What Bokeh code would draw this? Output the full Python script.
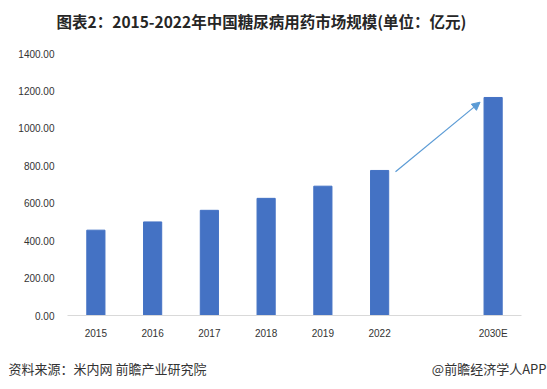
from bokeh.plotting import figure
from bokeh.layouts import column, row
from bokeh.models import Range1d, FixedTicker, Label, Arrow, NormalHead, NumeralTickFormatter, ColumnDataSource
from bokeh.embed import file_html
from bokeh.resources import INLINE

# ---- data ----
years = ["2015", "2016", "2017", "2018", "2019", "2022", "2030E"]
market_size = [456, 500, 562, 626, 691, 775, 1165]
slot_index = [0, 1, 2, 3, 4, 5, 7]   # one empty slot between 2022 and 2030E
n_slots = 8
y_ticks = [0, 200, 400, 600, 800, 1000, 1200, 1400]
title_text = "图表2：2015-2022年中国糖尿病用药市场规模(单位：亿元)"
source_text = "资料来源：米内网 前瞻产业研究院"
brand_text = "@前瞻经济学人APP"

W = 547
TH, MH, FH = 40, 301, 48


def text_fig(h):
    f = figure(width=W, height=h, output_backend="svg", toolbar_location=None,
               x_range=Range1d(0, W), y_range=Range1d(0, h),
               min_border=0, min_border_left=0, min_border_right=0,
               min_border_top=0, min_border_bottom=0)
    f.axis.visible = False
    f.grid.visible = False
    f.outline_line_color = None
    f.border_fill_color = "white"
    f.background_fill_color = "white"
    return f


# title strip
t = text_fig(TH)
t.add_layout(Label(x=261, y=TH - 20, text=title_text, text_align="center", text_baseline="middle",
                   text_font="Noto Sans CJK SC", text_font_style="bold",
                   text_font_size="15.5px", text_color="#262626"))

# main chart
p = figure(width=W, height=MH, output_backend="svg", toolbar_location=None,
           x_range=Range1d(-0.5, n_slots - 0.5), y_range=Range1d(0, 1400),
           min_border_left=67, min_border_right=26,
           min_border_top=13, min_border_bottom=24)
p.outline_line_color = None
p.background_fill_color = "white"
p.border_fill_color = "white"
p.xgrid.visible = False
p.ygrid.visible = False

src = ColumnDataSource(dict(x=slot_index, top=market_size, year=years))
p.vbar(x="x", top="top", width=0.32, source=src, color="#4472C4")

p.xaxis.ticker = FixedTicker(ticks=slot_index)
p.xaxis.major_label_overrides = {i: y for i, y in zip(slot_index, years)}
p.xaxis.axis_line_color = "#D9D9D9"
p.xaxis.major_tick_line_color = None
p.xaxis.minor_tick_line_color = None
p.xaxis.major_label_text_font = "Liberation Sans"
p.xaxis.major_label_text_font_size = "10px"
p.xaxis.major_label_text_color = "#333333"
p.xaxis.major_label_standoff = 6

p.yaxis.ticker = FixedTicker(ticks=y_ticks)
p.yaxis.formatter = NumeralTickFormatter(format="0.00")
p.yaxis.axis_line_color = None
p.yaxis.major_tick_line_color = None
p.yaxis.minor_tick_line_color = None
p.yaxis.major_label_text_font = "Liberation Sans"
p.yaxis.major_label_text_font_size = "10px"
p.yaxis.major_label_text_color = "#333333"
p.yaxis.major_label_standoff = 7

p.add_layout(Arrow(end=NormalHead(size=8, fill_color="#5B9BD5", line_color="#5B9BD5"),
                   x_start=5.28, y_start=768, x_end=6.77, y_end=1140,
                   line_color="#5B9BD5", line_width=1.2))

# footer strip
f = text_fig(FH)
f.add_layout(Label(x=8, y=FH - 27, text=source_text, text_align="left", text_baseline="middle",
                   text_font="Noto Sans CJK SC", text_font_size="13px", text_color="#333333"))
f.add_layout(Label(x=546, y=FH - 27, text=brand_text, text_align="right", text_baseline="middle",
                   text_font="Noto Sans CJK SC", text_font_size="13px", text_color="#333333"))

layout = column(row(t), p, row(f), spacing=0)
open("out.html", "w").write(file_html(layout, INLINE))
